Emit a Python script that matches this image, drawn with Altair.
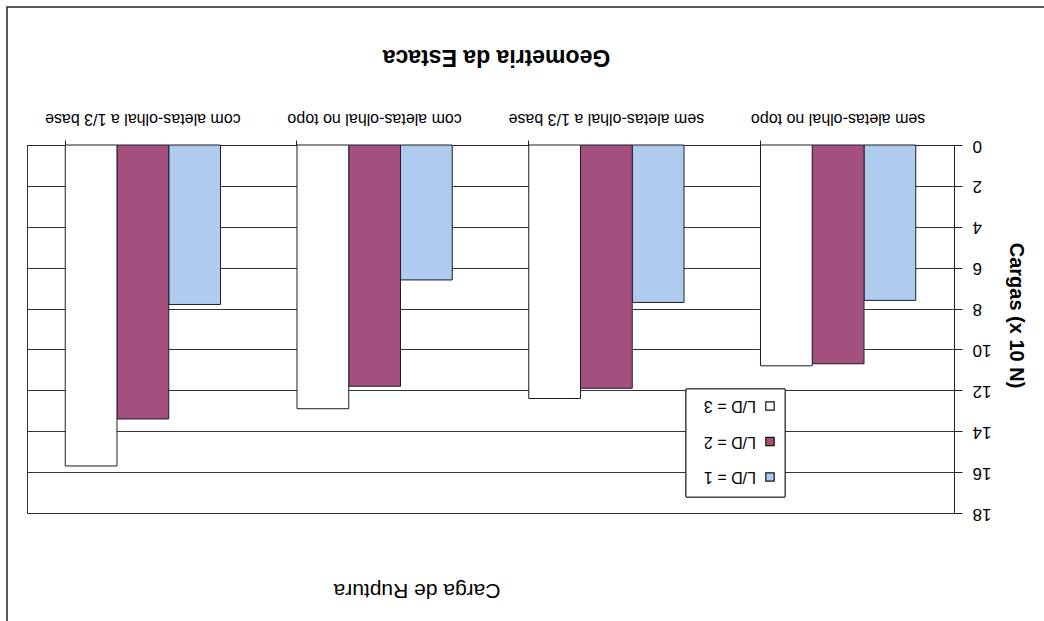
import altair as alt
import pandas as pd

# Pile geometry categories (as they run along the category axis)
categories = [
    "sem aletas-olhal no topo",
    "sem aletas-olhal a 1/3 base",
    "com aletas-olhal no topo",
    "com aletas-olhal a 1/3 base",
]
series = ["L/D = 1", "L/D = 2", "L/D = 3"]

# Rupture loads (x 10 N) for each L/D ratio
ld1 = [7.6, 7.7, 6.6, 7.8]
ld2 = [10.7, 11.9, 11.8, 13.4]
ld3 = [10.8, 12.4, 12.9, 15.7]

y_ticks = list(range(0, 19, 2))
chart_title = "Carga de Ruptura"
x_title = "Geometria da Estaca"
y_title = "Cargas (x 10 N)"

colors = {"L/D = 1": "#afcbee", "L/D = 2": "#a4507e", "L/D = 3": "#ffffff"}

rows = []
for name, vals in zip(series, [ld1, ld2, ld3]):
    for cat, v in zip(categories, vals):
        rows.append({"geometria": cat, "serie": name, "carga": v})
df = pd.DataFrame(rows)

# whole figure is drawn turned half a revolution
order_x = categories[::-1]
order_s = series[::-1]
FONT = "Liberation Sans"
W, H = 927, 368

bars = alt.Chart(df).mark_bar(stroke="#1c1c2c", strokeWidth=1).encode(
    x=alt.X(
        "geometria:N",
        sort=order_x,
        scale=alt.Scale(paddingInner=0.33, paddingOuter=0.165),
        axis=alt.Axis(
            orient="top",
            title=x_title,
            titleFontSize=23,
            titleFontWeight="bold",
            titleAngle=180,
            titleAlign="center",
            titleBaseline="middle",
            titleX=469,
            titleY=-89,
            titleColor="#000",
            labelAngle=180,
            labelAlign="center",
            labelBaseline="top",
            labelPadding=14,
            labelFontSize=16,
            labelColor="#000",
            labelLimit=0,
            bandPosition=0,
            tickSize=5,
            tickColor="#222",
            domainColor="#222",
            grid=False,
        ),
    ),
    xOffset=alt.XOffset(
        "serie:N", sort=order_s,
        scale=alt.Scale(paddingInner=0, paddingOuter=0),
    ),
    y=alt.Y(
        "carga:Q",
        scale=alt.Scale(domain=[0, 18], reverse=True, nice=False),
        axis=alt.Axis(
            orient="right",
            values=y_ticks,
            title=y_title,
            titleFontSize=20,
            titleFontWeight="bold",
            titleAngle=90,
            titleAlign="center",
            titleBaseline="middle",
            titleX=61,
            titleY=170,
            titleColor="#000",
            labelAngle=180,
            labelAlign="right",
            labelBaseline="middle",
            labelPadding=10,
            labelFontSize=17,
            labelColor="#000",
            tickSize=8,
            tickColor="#222",
            domainColor="#222",
            grid=True,
            gridColor="#333333",
            gridWidth=1,
        ),
    ),
    color=alt.Color(
        "serie:N",
        scale=alt.Scale(domain=series, range=[colors[s] for s in series]),
        legend=None,
    ),
)

# hand-drawn legend, upside down like the rest of the figure
leg_df = pd.DataFrame({"serie": series})
leg_y = alt.Y(
    "serie:N", sort=order_s,
    scale=alt.Scale(type="point", range=[261, 332], padding=0),
    axis=None,
)
leg_box = alt.Chart(leg_df).mark_rect(
    fill="#ffffff", stroke="#333", strokeWidth=1
).encode(
    x=alt.value(659), x2=alt.value(758), y=alt.value(244), y2=alt.value(352)
)
leg_sq = alt.Chart(leg_df).mark_point(
    shape="square", filled=True, size=70, stroke="#111", strokeWidth=1.2, opacity=1
).encode(
    x=alt.value(743),
    y=leg_y,
    fill=alt.Fill(
        "serie:N",
        scale=alt.Scale(domain=series, range=[colors[s] for s in series]),
        legend=None,
    ),
)
leg_txt = alt.Chart(leg_df).mark_text(
    angle=180, align="left", baseline="middle", fontSize=16, font=FONT, color="#000"
).encode(x=alt.value(729), y=leg_y, text="serie:N")
legend = alt.layer(leg_box, leg_sq, leg_txt)

title_txt = alt.Chart(pd.DataFrame({"t": [chart_title]})).mark_text(
    angle=180, align="center", baseline="middle", fontSize=21, font=FONT, color="#000"
).encode(x=alt.value(390), y=alt.value(445), text="t:N")

frame = alt.Chart(pd.DataFrame({"t": [chart_title]})).mark_rect(
    fill=None, stroke="#222", strokeWidth=1.5
).encode(x=alt.value(-20), x2=alt.value(1040), y=alt.value(-138), y2=alt.value(500))

chart = (
    alt.layer(frame, bars, legend, title_txt)
    .resolve_scale(y="independent", fill="independent", color="independent")
    .properties(
        width=W,
        height=H,
        autosize=alt.AutoSizeParams(type="none"),
        padding={"left": 27, "top": 145, "right": 90, "bottom": 108},
        background="#ffffff",
    )
    .configure(font=FONT)
    .configure_view(stroke="#333", strokeWidth=1)
)

chart.save("out.html", embed_options={"renderer": "svg", "actions": False})
